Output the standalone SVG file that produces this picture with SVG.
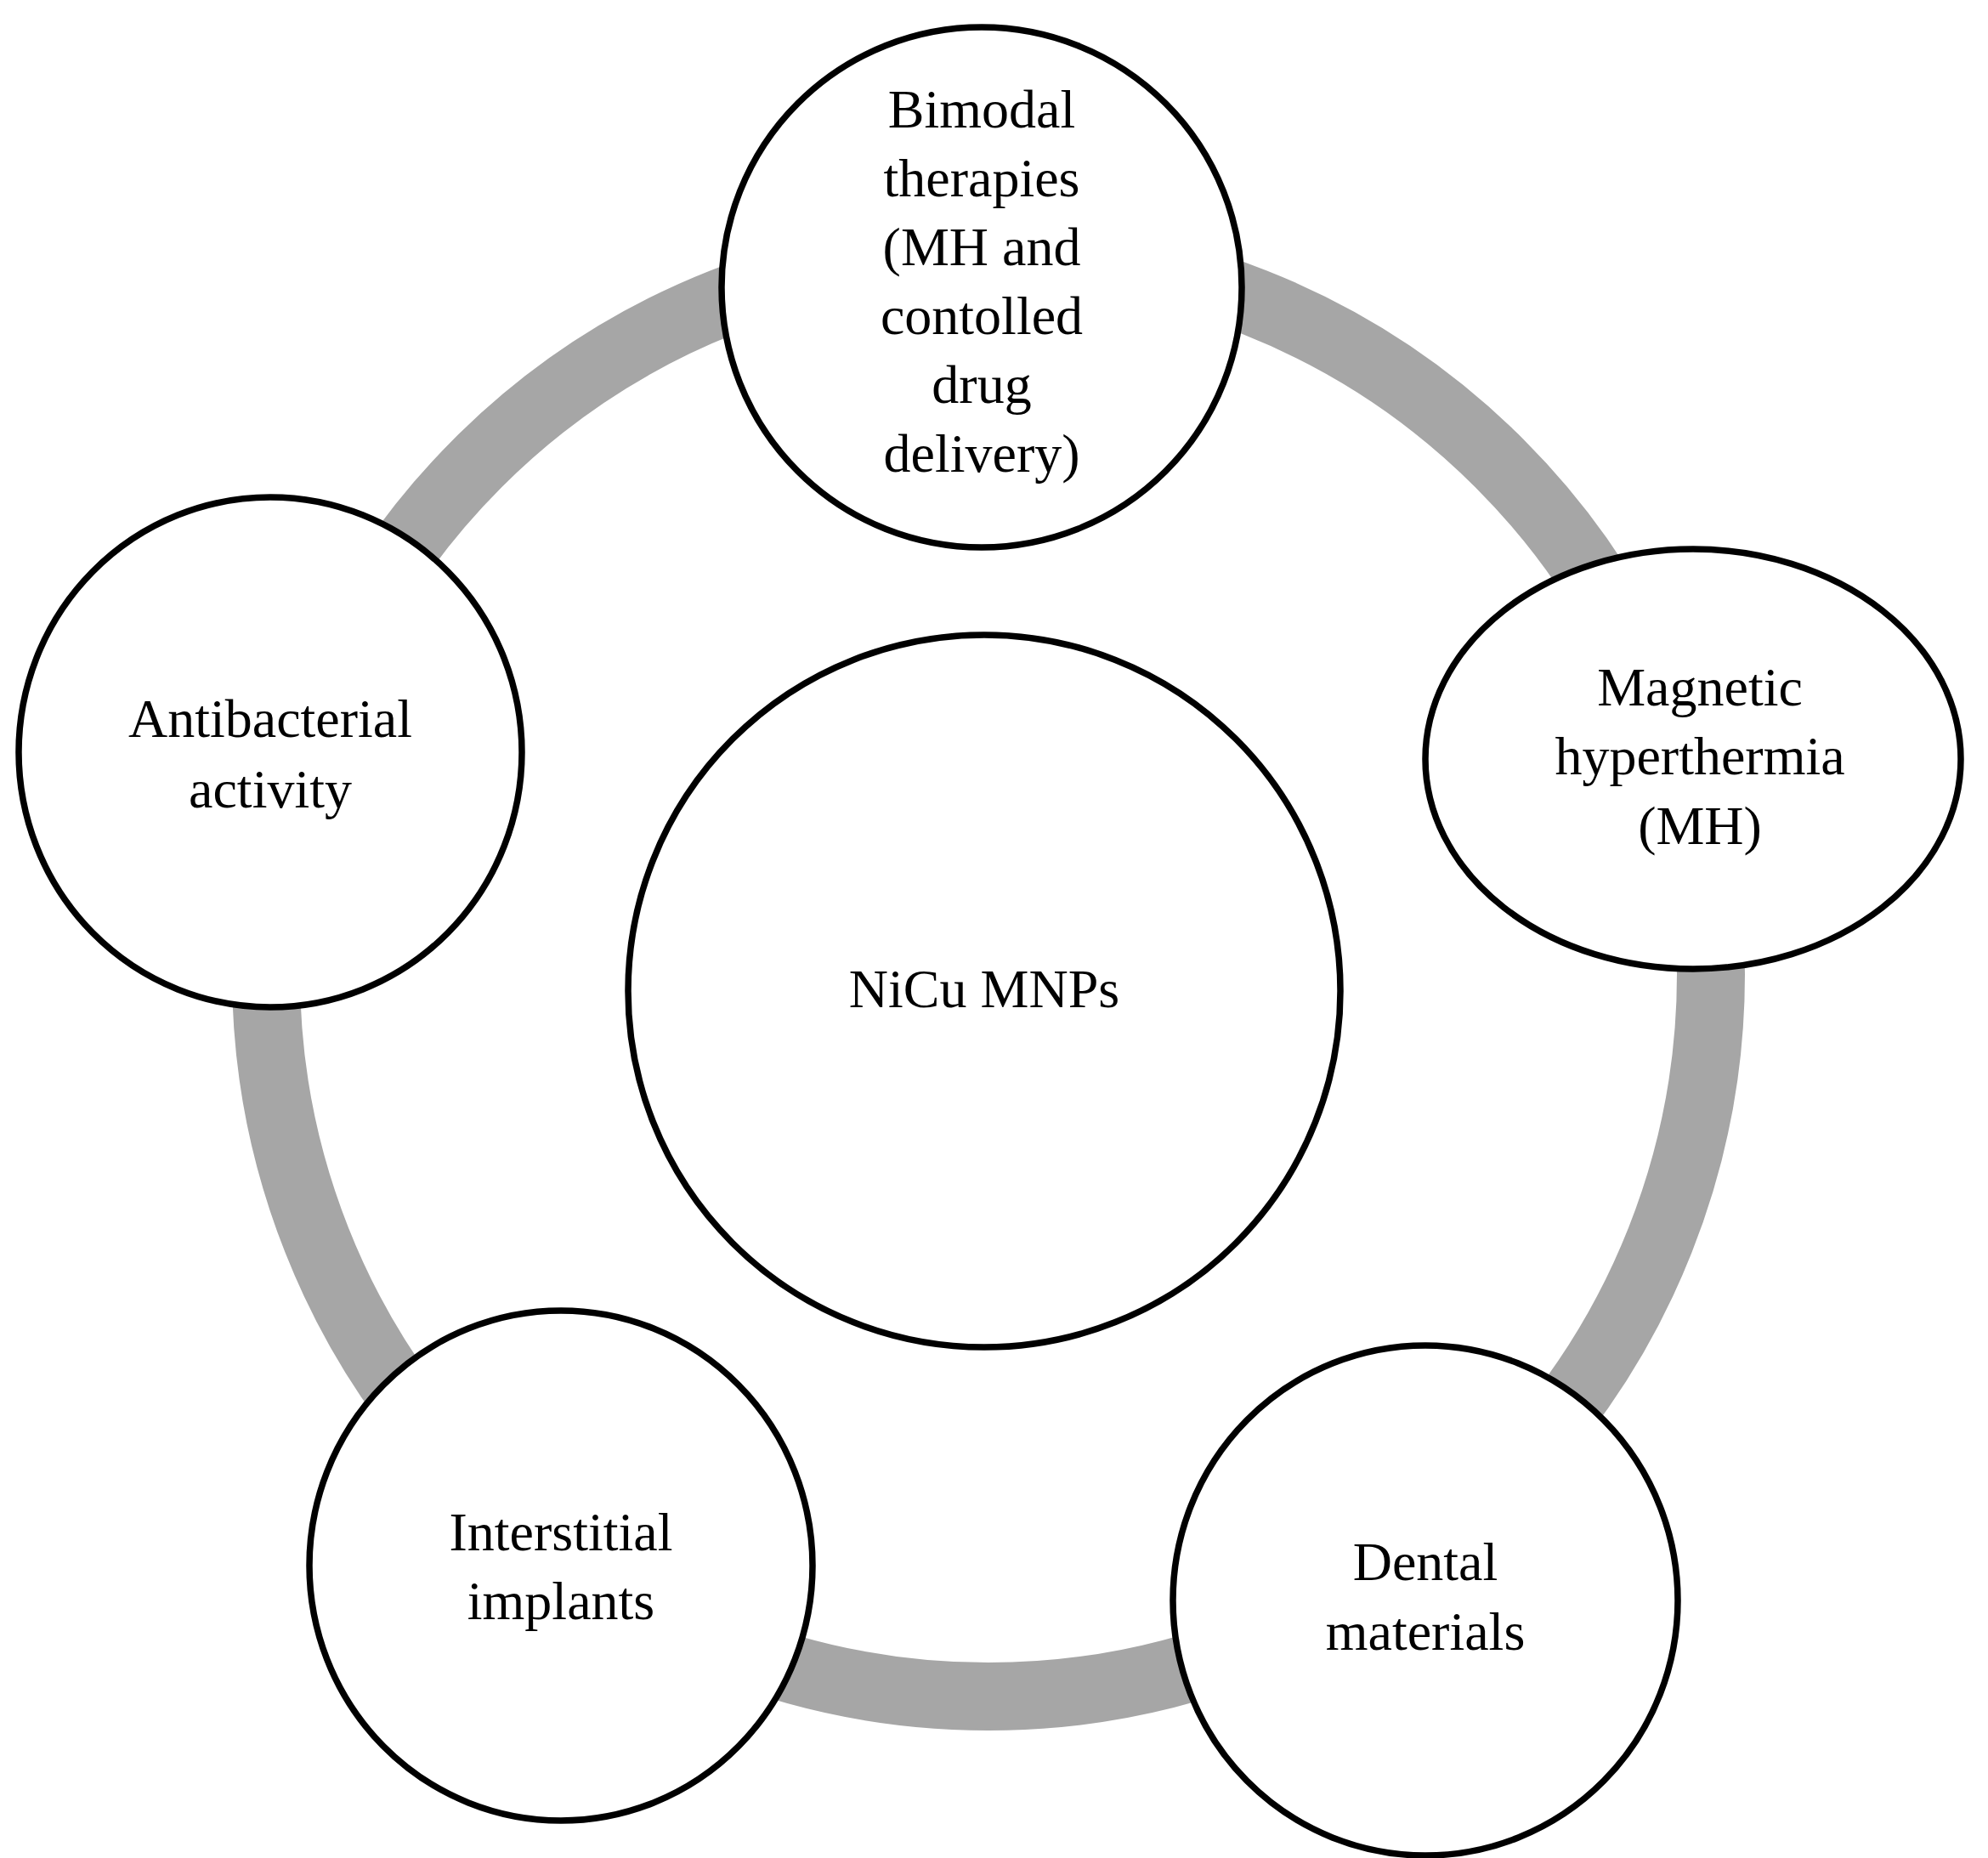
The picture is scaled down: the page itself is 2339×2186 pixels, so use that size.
<svg xmlns="http://www.w3.org/2000/svg" width="2339" height="2186" viewBox="0 0 2339 2186">
<style>
.n{fill:#fff;stroke:#000;stroke-width:7.5}
text{font-family:"Liberation Serif","DejaVu Serif",serif;font-size:64px;fill:#000;text-anchor:middle}
</style>
<rect width="2339" height="2186" fill="#fff"/>
<g id="connectors">
<circle cx="1163" cy="1146" r="850" fill="none" stroke="#a6a6a6" stroke-width="80"/>
</g>
<g id="center"><circle class="n" cx="1158" cy="1166" r="419"/><text x="1158" y="1185">NiCu MNPs</text></g>
<g id="top"><circle class="n" cx="1155" cy="338" r="306"/>
<text x="1155" y="150">Bimodal</text><text x="1155" y="231">therapies</text><text x="1155" y="312">(MH and</text><text x="1155" y="393">contolled</text><text x="1155" y="474">drug</text><text x="1155" y="555">delivery)</text></g>
<g id="right"><ellipse class="n" cx="1992" cy="893" rx="315" ry="247"/>
<text x="2000" y="830">Magnetic</text><text x="2000" y="911">hyperthermia</text><text x="2000" y="993">(MH)</text></g>
<g id="bottomright"><ellipse class="n" cx="1677" cy="1883" rx="297" ry="300"/>
<text x="1677" y="1859">Dental</text><text x="1677" y="1941">materials</text></g>
<g id="bottomleft"><ellipse class="n" cx="660" cy="1842" rx="296" ry="300"/>
<text x="660" y="1824">Interstitial</text><text x="660" y="1905">implants</text></g>
<g id="left"><ellipse class="n" cx="318" cy="885" rx="296" ry="300"/>
<text x="318" y="867">Antibacterial</text><text x="318" y="950">activity</text></g>
</svg>
